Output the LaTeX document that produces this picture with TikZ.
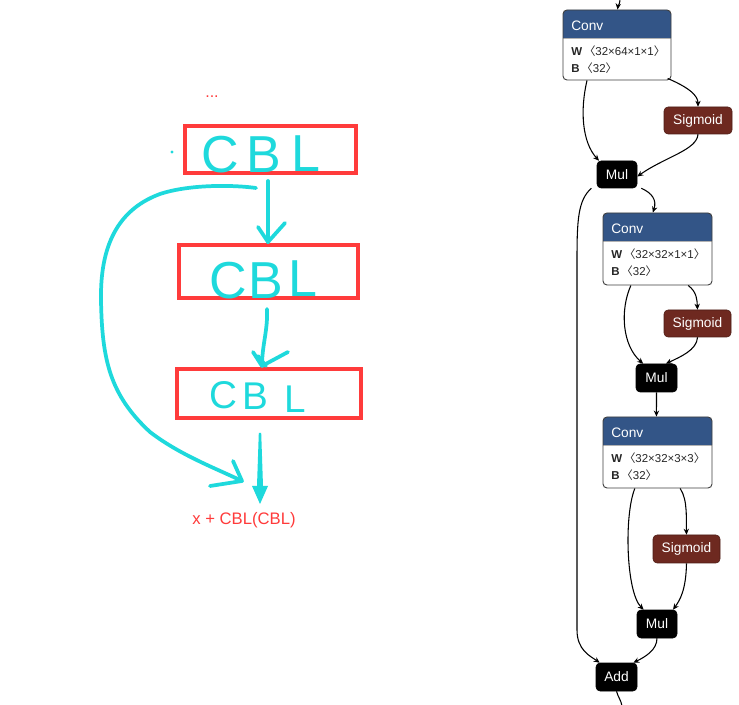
\documentclass[tikz,border=0pt]{standalone}
\usepackage{fontspec}
\setmainfont{Liberation Sans}
\newfontfamily\cjk{Noto Sans CJK SC}
\usetikzlibrary{fit,arrows.meta}
\definecolor{convhead}{HTML}{335587}
\definecolor{sigfill}{HTML}{6E2920}
\definecolor{cyanink}{HTML}{1ED9DC}
\definecolor{redink}{HTML}{FF3B3B}
\newcommand{\lb}{{\cjk 〈}}
\newcommand{\rb}{{\cjk 〉}}
\tikzset{
  x=0.75pt, y=-0.75pt,
  sigbox/.style={draw=sigfill!70!black, fill=sigfill, rounded corners=3pt, inner sep=0pt},
  blkbox/.style={draw=black, fill=black, rounded corners=3pt, inner sep=0pt},
  optxt/.style={text=white, inner sep=0pt, font=\fontsize{10.3}{12}\selectfont},
  convframe/.style={draw=black!75, line width=0.7pt, rounded corners=3pt, inner sep=0pt},
  headtxt/.style={text=white, anchor=base west, inner sep=0pt, font=\fontsize{10.3}{12}\selectfont},
  bodytxt/.style={text=black!85, anchor=base west, inner sep=0pt, font=\fontsize{8.6}{10}\selectfont},
  edge/.style={draw=black, line width=0.8pt, -{Stealth[length=4.5pt,width=4pt]}},
  ink/.style={draw=cyanink, line width=2.8pt, line cap=round, line join=round},
  redbox/.style={draw=redink, line width=2.3pt, inner sep=0pt},
  hand/.style={text=cyanink, anchor=base west, inner sep=0pt, font=\fontsize{39}{40}\selectfont},
  handsmall/.style={text=cyanink, anchor=base west, inner sep=0pt, font=\fontsize{29}{30}\selectfont},
}
\newcommand{\convnode}[6]{% name, x1, y1, x2, y2, Wtext
  \fill[white, rounded corners=3pt] (#2,#3) rectangle (#4,#5);
  \begin{scope}
    \clip (#2,#3) rectangle (#4,#3+28);
    \fill[convhead, rounded corners=3pt] (#2,#3) rectangle (#4,#5);
  \end{scope}
  \draw[black!30, line width=0.6pt] (#2,#3+28) -- (#4,#3+28);
  \node[convframe, fit={(#2,#3) (#4,#5)}] (#1) {};
  \node[headtxt] (#1h) at (#2+8,#3+21) {Conv};
  \node[bodytxt] (#1w) at (#2+8,#3+46) {\textbf{W}\,\lb#6\rb};
  \node[bodytxt] (#1b) at (#2+8,#3+63) {\textbf{B}\,\lb32\rb};
}
\begin{document}
\begin{tikzpicture}
\useasboundingbox[fill=white] (0,0) rectangle (739,705);

% ---------------- left: hand-drawn part ----------------
\node[redbox, fit={(185,126) (356,173)}] (b1) {};
\node[redbox, fit={(179,245) (358,298)}] (b2) {};
\node[redbox, fit={(177,369) (361,418)}] (b3) {};

\node[text=redink, inner sep=0pt, font=\fontsize{12}{13}\selectfont] (dots) at (212,97) {...};
\fill[cyanink] (172,152) circle (1.6);

\node[hand] (c1l) at (201,173) {C};
\node[hand] (b1l) at (246,173) {B};
\node[hand] (l1l) at (291,172) {L};

\node[hand] (c2l) at (209,299) {C};
\node[hand] (b2l) at (248,299) {B};
\node[hand] (l2l) at (288,297) {L};

\node[handsmall] (c3l) at (209,409) {C};
\node[handsmall] (b3l) at (242,410) {B};
\node[handsmall] (l3l) at (284,413) {L};

% arrow b1 -> b2
\coordinate (a1s) at (268,181);
\coordinate (a1e) at (268,242);
\draw[ink] (a1s) -- (a1e);
\draw[ink] (258,227) -- (a1e) -- (285,223);
% arrow b2 -> b3
\coordinate (a2s) at (267,309);
\coordinate (a2e) at (262,366);
\draw[ink] (a2s) .. controls (268,330) and (262,345) .. (a2e);
\draw[ink] (253,352) -- (a2e) -- (288,352);
\draw[ink] (258,356) -- (266,366);
% skip connection
\coordinate (ss) at (256,188);
\coordinate (se) at (242,481);
\draw[ink] (ss) .. controls (235,185) and (190,184) .. (160,194)
  .. controls (122,208) and (100,240) .. (101,300)
  .. controls (102,360) and (110,395) .. (150,432)
  .. controls (180,455) and (215,468) .. (se);
\draw[ink] (233,461) -- (se) -- (210,486);
% thick output arrow
\fill[cyanink] (258.8,433) -- (261.2,433) -- (263,486) -- (268,486) -- (260,504) -- (252,486) -- (257,486) -- cycle;
\node[text=redink, inner sep=0pt, font=\fontsize{12.5}{14}\selectfont] (res) at (244,520) {x + CBL(CBL)};

% ---------------- right: Netron graph ----------------
\convnode{cv1}{563}{10}{671}{80}{32×64×1×1}
\convnode{cv2}{603}{213}{712}{285}{32×32×1×1}
\convnode{cv3}{603}{417}{712}{488}{32×32×3×3}

\node[sigbox, fit={(664,107) (732,134)}] (s1) {};
\node[sigbox, fit={(664,310) (731,337)}] (s2) {};
\node[sigbox, fit={(653,535) (720,563)}] (s3) {};
\node[optxt] (s1t) at (s1.center) {Sigmoid};
\node[optxt] (s2t) at (s2.center) {Sigmoid};
\node[optxt] (s3t) at (s3.center) {Sigmoid};

\node[blkbox, fit={(597,161) (637,188)}] (m1) {};
\node[blkbox, fit={(636,364) (677,392)}] (m2) {};
\node[blkbox, fit={(637,610) (677,638)}] (m3) {};
\node[blkbox, fit={(596,663) (637,691)}] (ad) {};
\node[optxt] (m1t) at (m1.center) {Mul};
\node[optxt] (m2t) at (m2.center) {Mul};
\node[optxt] (m3t) at (m3.center) {Mul};
\node[optxt] (adt) at (ad.center) {Add};

\coordinate (top) at (620,-1);
\coordinate (bot) at (622,706);

\draw[edge] (top) .. controls (620,4) and (618,6) .. ([xshift=0.4pt]cv1.north);
\draw[edge] ([xshift=-22.5pt]cv1.south) .. controls (580,110) and (582,142) .. ([xshift=-13.5pt]m1.north);
\draw[edge] ([xshift=38pt,yshift=1.5pt]cv1.south) .. controls (690,88) and (698,96) .. (s1.north);
\draw[edge] (s1.south) .. controls (697,150) and (665,157) .. ([yshift=-1.5pt]m1.east);
\draw[edge] ([xshift=3pt]m1.south east) .. controls (652,193) and (657,200) .. ([xshift=-3.5pt]cv2.north);
\draw[edge] ([xshift=-4pt]m1.south west) .. controls (578,200) and (577,220) .. (577,260)
  -- (577,630) .. controls (577,650) and (590,656) .. ([xshift=3pt]ad.north west);
\draw[edge] ([xshift=-20pt]cv2.south) .. controls (620,310) and (622,345) .. ([xshift=-10pt]m2.north);
\draw[edge] ([xshift=23pt]cv2.south) .. controls (697,292) and (697,300) .. (s2.north);
\draw[edge] (s2.south) .. controls (697,350) and (680,357) .. ([xshift=7pt]m2.north);
\draw[edge] (m2.south) -- ([xshift=-0.8pt]cv3.north);
\draw[edge] ([xshift=-17pt]cv3.south) .. controls (624,515) and (626,592) .. ([xshift=-10pt]m3.north);
\draw[edge] ([xshift=17pt]cv3.south) .. controls (688,500) and (686,520) .. (s3.north);
\draw[edge] (s3.south) .. controls (686,590) and (680,600) .. ([xshift=12pt]m3.north);
\draw[edge] (m3.south) .. controls (657,650) and (645,657) .. ([xshift=-3pt]ad.north east);
\draw[line width=0.8pt] (ad.south) .. controls (618,697) and (621,700) .. (bot);
\end{tikzpicture}
\end{document}
